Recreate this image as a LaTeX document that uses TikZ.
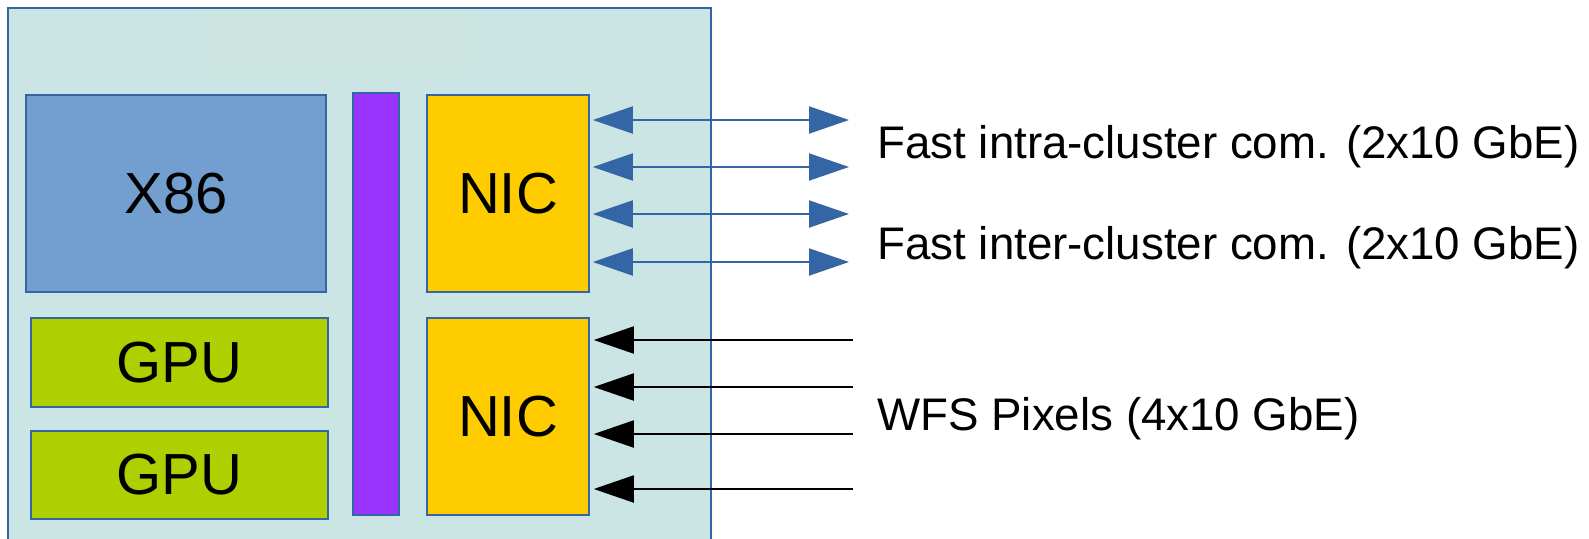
\documentclass[tikz,border=0pt]{standalone}
\usepackage{fontspec}
\setmainfont{Liberation Sans}
\usetikzlibrary{arrows.meta}
\definecolor{boardbg}{HTML}{CBE4E4}
\definecolor{titlebg}{HTML}{CBE4DF}
\definecolor{lineblue}{HTML}{3465A4}
\definecolor{cpublue}{HTML}{729FCF}
\definecolor{gpugreen}{HTML}{AECF00}
\definecolor{buspurple}{HTML}{9933FF}
\definecolor{nicyellow}{HTML}{FFCC00}

\begin{document}
\begin{tikzpicture}[x=0.02cm,y=-0.02cm,
  unit/.style={draw=lineblue, line width=0.9pt, inner sep=0pt, font=\fontsize{33}{40}\selectfont},
  fastlink/.style={draw=lineblue, line width=1.1pt, {Triangle[length=0.8cm,width=0.54cm]}-{Triangle[length=0.8cm,width=0.54cm]}},
  pixlink/.style={draw=black, line width=1.1pt, -{Triangle[length=0.8cm,width=0.54cm]}},
  linklabel/.style={anchor=base west, inner sep=0pt, font=\fontsize{26}{31}\selectfont}]
\useasboundingbox (0,0) rectangle (1589,538);
\clip (0,0) rectangle (1589,538);
\draw[lineblue, line width=0.9pt, fill=boardbg] (8,8) rectangle (711,560);
\fill[titlebg] (202,10) rectangle (475,75);
\node[unit, fill=cpublue, minimum width=6cm, minimum height=3.94cm] (x86) at (176,193.5) {X86};
\node[unit, fill=gpugreen, minimum width=5.94cm, minimum height=1.78cm] (gpua) at (179.5,362.5) {GPU};
\node[unit, fill=gpugreen, minimum width=5.94cm, minimum height=1.76cm] (gpub) at (179.5,475) {GPU};
\node[unit, fill=buspurple, minimum width=0.92cm, minimum height=8.44cm] (bus) at (376,304) {};
\node[unit, fill=nicyellow, minimum width=3.24cm, minimum height=3.94cm] (nica) at (508,193.5) {NIC};
\node[unit, fill=nicyellow, minimum width=3.24cm, minimum height=3.94cm] (nicb) at (508,416.5) {NIC};
\foreach \y [count=\i] in {120,167,214,262} {
  \coordinate (fast\i) at (849,\y);
  \draw[fastlink, shorten <=0.06cm] (nica.east |- fast\i) -- (fast\i);
}
\foreach \y [count=\i] in {340,387,434,489} {
  \coordinate (pix\i) at (853,\y);
  \draw[pixlink, shorten >=0.08cm] (pix\i) -- (nicb.east |- pix\i);
}
\node[linklabel] (intra) at (877,158.5) {Fast intra-cluster com. (2x10 GbE)};
\node[linklabel] (inter) at (877,259) {Fast inter-cluster com. (2x10 GbE)};
\node[linklabel] (wfs) at (877,430) {WFS Pixels (4x10 GbE)};
\end{tikzpicture}
\end{document}
